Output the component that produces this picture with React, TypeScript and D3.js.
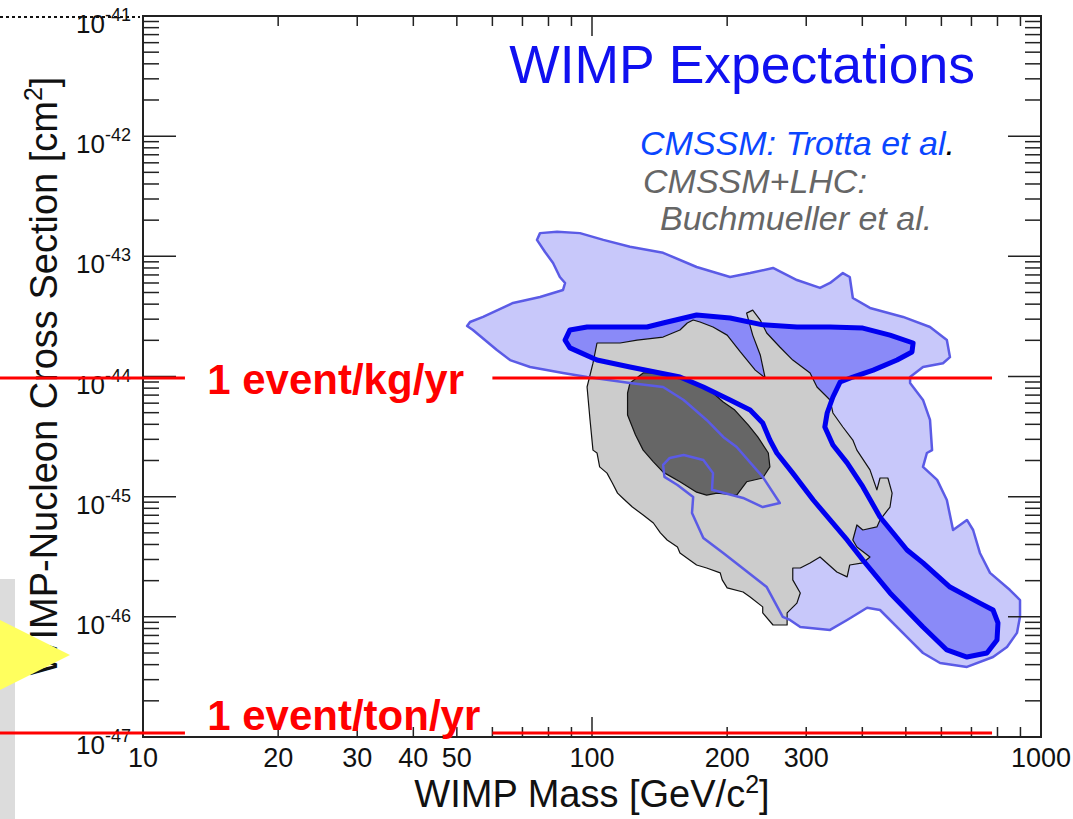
import React from 'react';
import * as d3 from 'd3';

// ---------- data ----------
const X_DOMAIN: [number, number] = [10, 1000];
const Y_DOMAIN: [number, number] = [1e-47, 1e-41];
const X_TICK_LABELS = [10, 20, 30, 40, 50, 100, 200, 300, 1000];
const Y_TICK_EXPONENTS = [-41, -42, -43, -44, -45, -46, -47];

// CMSSM (Trotta et al.) outer region  [mass GeV, sigma cm^2]
const CMSSM_OUTER: [number, number][] = [
  [52.7, 2.63e-44], [53.5, 2.84e-44], [57.2, 3.13e-44], [66.7, 4.09e-44], [76.6, 4.59e-44], [86.2, 5.25e-44],
  [87.1, 6.0e-44], [84.8, 6.73e-44], [81.9, 8.81e-44], [78.6, 1.087e-43], [75.4, 1.37e-43], [76.6, 1.56e-43],
  [83.6, 1.6e-43], [94.0, 1.56e-43], [106, 1.37e-43], [121.5, 1.2e-43], [144, 1.07e-43], [171, 8.15e-44],
  [203, 6.73e-44], [225, 7.26e-44], [253, 8.0e-44], [286, 6.35e-44], [322, 5.46e-44], [339, 6.0e-44],
  [362, 7.26e-44], [375, 6.73e-44], [381, 4.5e-44], [416, 3.72e-44], [493, 3.13e-44], [566, 2.58e-44],
  [617, 2.01e-44], [627, 1.45e-44], [605, 1.29e-44], [546, 1.2e-44], [511, 9.9e-45], [511, 8.83e-45],
  [546, 6.38e-45], [566, 4.35e-45], [572, 2.44e-45], [557, 2.31e-45], [546, 1.77e-45], [587, 1.38e-45],
  [617, 9.38e-46], [637, 5.28e-46], [684, 6.4e-46], [706, 5.28e-46], [731, 3.4e-46], [770, 2.32e-46],
  [853, 1.67e-46], [898, 1.38e-46], [898, 1.0e-46], [884, 7.35e-47], [840, 5.61e-47], [782, 4.63e-47],
  [684, 3.83e-47], [596, 4.13e-47], [546, 5.0e-47], [511, 6.41e-47], [438, 1.14e-46], [410, 1.19e-46],
  [370, 9.42e-47], [339, 7.78e-47], [291, 8.24e-47], [276, 9.42e-47], [266, 1.0e-46], [245, 1.77e-46],
  [196, 3.4e-46], [177, 4.53e-46], [167, 7.31e-46], [168, 9.93e-46], [155, 1.25e-45], [145, 1.46e-45],
  [144, 1.84e-45], [149, 2.1e-45], [160, 2.22e-45], [177, 2.02e-45], [186, 1.57e-45], [185, 1.14e-45],
  [217, 9.75e-46], [240, 8.2e-46], [262, 8.85e-46], [240, 1.46e-45], [210, 2.59e-45], [196, 3.14e-45],
  [180, 4.35e-45], [160, 6.38e-45], [144, 8.18e-45], [121.5, 8.83e-45], [97.5, 9.9e-45], [86.2, 1.07e-44],
  [72.8, 1.2e-44], [65.7, 1.37e-44], [61.4, 1.66e-44], [54.3, 2.44e-44],
];

// CMSSM (Trotta et al.) inner region
const CMSSM_INNER: [number, number][] = [
  [87.1, 2.01e-44], [89.3, 2.44e-44], [97.5, 2.58e-44], [111.4, 2.58e-44], [132.6, 2.58e-44], [144, 2.79e-44],
  [171, 3.25e-44], [203, 3.07e-44], [240, 2.69e-44], [286, 2.58e-44], [339, 2.58e-44], [401, 2.53e-44],
  [461, 2.21e-44], [519, 1.9e-44], [516, 1.6e-44], [478, 1.37e-44], [423, 1.13e-44], [381, 9.9e-45],
  [357, 9.0e-45], [344, 6.75e-45], [334, 4.97e-45], [330, 3.8e-45], [344, 2.69e-45], [370, 1.91e-45],
  [401, 1.21e-45], [438, 6.77e-46], [503, 3.6e-46], [546, 2.81e-46], [627, 1.77e-46], [731, 1.3e-46],
  [782, 1.14e-46], [802, 8.89e-47], [798, 6.41e-47], [758, 5.0e-47], [684, 4.63e-47], [617, 5.3e-47],
  [546, 8.24e-47], [461, 1.58e-46], [401, 2.97e-46], [370, 4.36e-46], [311, 9.38e-46], [280, 1.57e-45],
  [258, 2.31e-45], [249, 2.96e-45], [240, 4.1e-45], [225, 5.26e-45], [203, 6.38e-45], [177, 8.18e-45],
  [157, 9.9e-45], [121.5, 1.2e-44], [102.6, 1.37e-44], [89.3, 1.73e-44],
];

// CMSSM+LHC (Buchmueller et al.) outer region
const LHC_OUTER: [number, number][] = [
  [102.6, 1.9e-44], [115.5, 1.9e-44], [126, 2.01e-44], [144, 2.13e-44], [157, 2.44e-44], [163, 2.79e-44],
  [168, 2.95e-44], [174, 2.84e-44], [186, 2.58e-44], [200, 2.21e-44], [214, 1.6e-44], [231, 1.13e-44],
  [243, 9.72e-45], [237, 1.51e-44], [228, 2.21e-44], [221, 3.37e-44], [228, 3.57e-44], [237, 2.95e-44],
  [245, 2.3e-44], [262, 1.76e-44], [280, 1.37e-44], [306, 1.07e-44], [317, 8.18e-45], [339, 6.38e-45],
  [344, 4.97e-45], [362, 3.8e-45], [381, 2.96e-45], [389, 2.44e-45], [416, 1.67e-45], [431, 1.14e-45],
  [438, 1.43e-45], [456, 1.43e-45], [466, 1.07e-45], [461, 8.2e-46], [438, 6.4e-46], [431, 5.6e-46],
  [401, 5.28e-46], [389, 5.81e-46], [381, 4.36e-46], [389, 3.81e-46], [416, 3.15e-46], [401, 2.81e-46],
  [375, 2.7e-46], [370, 2.15e-46], [351, 2.36e-46], [322, 3.15e-46], [306, 2.81e-46], [291, 2.55e-46],
  [280, 2.55e-46], [280, 2.03e-46], [291, 1.58e-46], [286, 1.3e-46], [272, 1.08e-46], [272, 8.55e-47],
  [253, 8.55e-47], [240, 1.08e-46], [240, 1.21e-46], [225, 1.46e-46], [217, 1.61e-46], [200, 1.74e-46],
  [195, 2.03e-46], [193, 2.32e-46], [180, 2.55e-46], [171, 2.7e-46], [165, 2.97e-46], [157, 3.4e-46],
  [155, 3.81e-46], [147, 4.36e-46], [142, 4.99e-46], [137, 6.04e-46], [130, 7.05e-46], [123, 8.2e-46],
  [117, 9.75e-46], [114, 1.07e-45], [111, 1.3e-45], [108, 1.57e-45], [104, 1.77e-45], [102.6, 2.31e-45],
  [100.5, 2.44e-45], [99, 4.35e-45], [97.5, 8.18e-45], [100.5, 1.29e-44],
];

// CMSSM+LHC (Buchmueller et al.) inner region
const LHC_INNER: [number, number][] = [
  [121.5, 8.83e-45], [130, 1.07e-44], [139.6, 1.07e-44], [157, 9.9e-45], [171, 8.83e-45], [186, 7.29e-45],
  [196, 6.14e-45], [208, 5.26e-45], [223, 3.94e-45], [234, 3.14e-45], [247, 2.31e-45], [249, 1.77e-45],
  [240, 1.43e-45], [221, 1.33e-45], [210, 1.03e-45], [190, 1.07e-45], [180, 1.03e-45], [171, 1.09e-45],
  [157, 1.33e-45], [144, 1.6e-45], [137, 1.95e-45], [130, 2.44e-45], [125, 3.26e-45], [120, 4.79e-45],
  [120, 7.29e-45],
];

// event-rate reference lines
const EVENT_LABELS = ['1 event/kg/yr', '1 event/ton/yr'];
const EVENT_SIGMA = [9.7e-45, 1.08e-47];
const EVENT_SEGMENTS: [number, number][] = [[4.8, 12.4], [60, 778]];
const EVENT_LABEL_MASS = 13.9;

const TITLE = 'WIMP Expectations';
const LEGEND = ['CMSSM: Trotta et al', 'CMSSM+LHC:', 'Buchmueller et al.'];

// ---------- layout ----------
const W = 1073;
const H = 819;
const PL = 143, PR = 1041, PT = 16, PB = 737;
const FONT = '"Liberation Sans", Arial, Helvetica, sans-serif';

export default function App() {
  const x = d3.scaleLog().domain(X_DOMAIN).range([PL, PR]);
  const y = d3.scaleLog().domain(Y_DOMAIN).range([PB, PT]);
  const area = d3
    .line<[number, number]>()
    .x((d) => x(d[0]))
    .y((d) => y(d[1]))
    .curve(d3.curveLinearClosed);

  // ticks
  const xTicks: { v: number; major: boolean }[] = [];
  for (let e = 1; e < 3; e++) for (let m = 1; m <= 9; m++) xTicks.push({ v: m * Math.pow(10, e), major: m === 1 });
  xTicks.push({ v: 1000, major: true });
  const yTicks: { v: number; major: boolean }[] = [];
  for (let e = -47; e < -41; e++) for (let m = 1; m <= 9; m++) yTicks.push({ v: m * Math.pow(10, e), major: m === 1 });
  yTicks.push({ v: 1e-41, major: true });

  const axisColor = '#222';

  return (
    <svg
      width={W}
      height={H}
      style={{ position: 'absolute', left: 0, top: 0, background: '#fff' }}
      fontFamily={FONT}
    >
      <rect x={0} y={0} width={W} height={H} fill="#fff" />

      {/* slide decorations at the left edge (behind) */}
      <rect x={0} y={579} width={15} height={H - 579} fill="#dcdcdc" />

      {/* contour fills */}
      <path d={area(CMSSM_OUTER) || ''} fill="#c8c8fa" stroke="none" />
      <path d={area(CMSSM_INNER) || ''} fill="#8a8af8" stroke="none" />
      <path d={area(LHC_OUTER) || ''} fill="#cccccc" stroke="#111" strokeWidth={1.2} strokeLinejoin="round" />
      <path d={area(LHC_INNER) || ''} fill="#666666" stroke="#111" strokeWidth={1.2} strokeLinejoin="round" />
      {/* contour outlines */}
      <path d={area(CMSSM_OUTER) || ''} fill="none" stroke="#5b5be6" strokeWidth={2.5} strokeLinejoin="round" />
      <path d={area(CMSSM_INNER) || ''} fill="none" stroke="#0000f0" strokeWidth={5} strokeLinejoin="round" />

      {/* frame */}
      <rect x={PL} y={PT} width={PR - PL} height={PB - PT} fill="none" stroke={axisColor} strokeWidth={2} />

      {/* x ticks */}
      {xTicks.map((t, i) => {
        const xx = x(t.v);
        const L = t.major ? 20 : 10;
        return (
          <g key={'xt' + i} stroke={axisColor} strokeWidth={1.5}>
            <line x1={xx} x2={xx} y1={PB} y2={PB - L} />
            <line x1={xx} x2={xx} y1={PT} y2={PT + L} />
          </g>
        );
      })}
      {/* y ticks */}
      {yTicks.map((t, i) => {
        const yy = y(t.v);
        const L = t.major ? 33 : 16;
        return (
          <g key={'yt' + i} stroke={axisColor} strokeWidth={1.5}>
            <line x1={PL} x2={PL + L} y1={yy} y2={yy} />
            <line x1={PR} x2={PR - L} y1={yy} y2={yy} />
          </g>
        );
      })}

      {/* x tick labels */}
      {X_TICK_LABELS.map((v) => (
        <text key={'xl' + v} x={x(v)} y={767} fontSize={27} textAnchor="middle" fill="#111">
          {v}
        </text>
      ))}
      {/* y tick labels */}
      {Y_TICK_EXPONENTS.map((e) => (
        <text key={'yl' + e} x={131} y={y(Math.pow(10, e)) + 17} fontSize={26} textAnchor="end" fill="#111">
          <tspan>10</tspan>
          <tspan dy={-12} fontSize={18}>{String(e)}</tspan>
        </text>
      ))}

      {/* axis titles */}
      <text x={592} y={807} fontSize={38} textAnchor="middle" fill="#111">
        WIMP Mass [GeV/c<tspan dy={-14} fontSize={25}>2</tspan>
        <tspan dy={14}>]</tspan>
      </text>
      <text transform="translate(57,376) rotate(-90)" fontSize={38} textAnchor="middle" fill="#111">
        WIMP-Nucleon Cross Section [cm<tspan dy={-15} fontSize={25}>2</tspan>
        <tspan dy={15}>]</tspan>
      </text>

      {/* title & legend */}
      <text x={975} y={83} fontSize={53.5} textAnchor="end" fill="#1010f0">
        {TITLE}
      </text>
      <text x={640} y={155} fontSize={34} fontStyle="italic" fill="#0a46ff">
        {LEGEND[0]}
        <tspan fill="#000">.</tspan>
      </text>
      <text x={643} y={193} fontSize={34} fontStyle="italic" fill="#666">
        {LEGEND[1]}
      </text>
      <text x={660} y={230} fontSize={34} fontStyle="italic" fill="#666">
        {LEGEND[2]}
      </text>

      {/* event lines */}
      {EVENT_SIGMA.map((s, i) => {
        const yy = y(s);
        return (
          <g key={'ev' + i}>
            {EVENT_SEGMENTS.map((seg, j) => (
              <line key={j} x1={x(seg[0])} x2={x(seg[1])} y1={yy} y2={yy} stroke="#ff0000" strokeWidth={3} />
            ))}
            <text
              x={x(EVENT_LABEL_MASS)}
              y={i === 0 ? yy + 16 : yy - 3}
              fontSize={42}
              fontWeight="bold"
              fill="#ff0000"
            >
              {EVENT_LABELS[i]}
            </text>
          </g>
        );
      })}

      {/* slide decorations at the left edge (front) */}
      <line x1={0} x2={140} y1={y(1e-41) + 1} y2={y(1e-41) + 1} stroke="#111" strokeWidth={2} strokeDasharray="3,3" />
      <polygon points="0,620 70,655 0,690" fill="#ffff5e" />
    </svg>
  );
}
